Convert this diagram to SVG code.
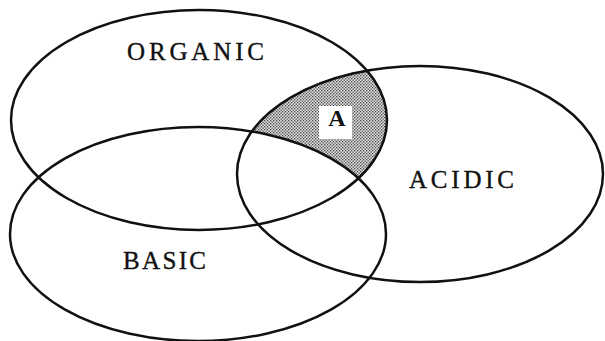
<svg xmlns="http://www.w3.org/2000/svg" width="605" height="341" viewBox="0 0 605 341">
  <style>
    .set { fill: none; stroke: #111; stroke-width: 2.5; }
    .lbl { font-family: "Liberation Serif", "Times New Roman", serif; font-size: 25px; fill: #111; stroke: #111; stroke-width: 0.35; text-anchor: start; }
    .a { font-family: "Liberation Serif", "Times New Roman", serif; font-size: 24px; font-weight: bold; fill: #111; text-anchor: middle; }
  </style>
  <defs>
    <pattern id="dots" width="3" height="3" patternUnits="userSpaceOnUse">
      <rect width="3" height="3" fill="#e0e0e0"/>
      <rect x="0" y="0" width="1.3" height="1.3" fill="#444"/>
      <rect x="1.5" y="1.5" width="1.3" height="1.3" fill="#444"/>
    </pattern>
    <mask id="regionA">
      <ellipse cx="199" cy="120" rx="188" ry="110" fill="#fff"/>
      <ellipse cx="198" cy="234" rx="188" ry="107" fill="#000"/>
    </mask>
  </defs>
  <rect width="605" height="341" fill="#fff"/>
  <g id="region-A">
    <ellipse cx="420" cy="174" rx="183" ry="108" fill="url(#dots)" mask="url(#regionA)"/>
    <rect x="319" y="106" width="33" height="33" fill="#fff"/>
    <text class="a" x="337" y="126">A</text>
  </g>
  <g id="organic">
    <ellipse class="set" cx="199" cy="120" rx="188" ry="110"/>
    <text class="lbl" x="127" y="60" textLength="137" lengthAdjust="spacing">ORGANIC</text>
  </g>
  <g id="basic">
    <ellipse class="set" cx="198" cy="234" rx="188" ry="107"/>
    <text class="lbl" x="123" y="269" textLength="83" lengthAdjust="spacing">BASIC</text>
  </g>
  <g id="acidic">
    <ellipse class="set" cx="420" cy="174" rx="183" ry="108"/>
    <text class="lbl" x="409" y="188" textLength="105" lengthAdjust="spacing">ACIDIC</text>
  </g>
  <g id="connectors"/>
</svg>
